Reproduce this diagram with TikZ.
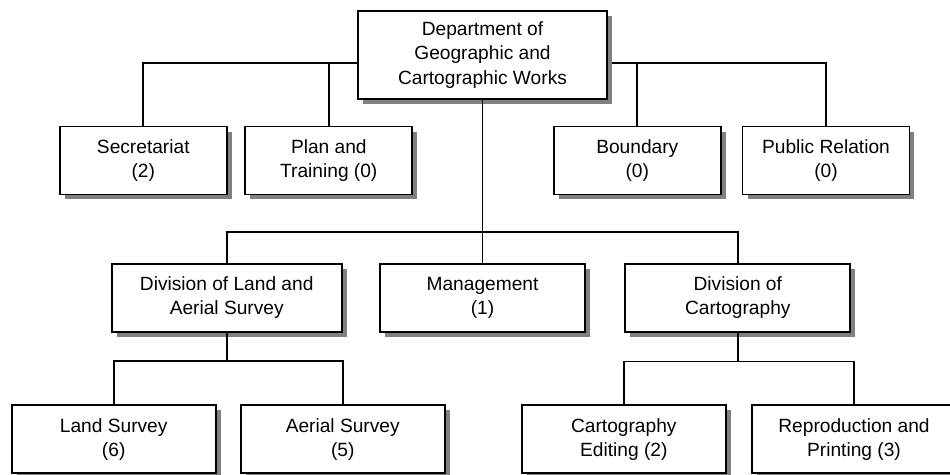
\documentclass[tikz,border=0pt]{standalone}
\usepackage{fontspec}
\setmainfont{Liberation Sans}
\usepackage{tikz}
\usetikzlibrary{shadows}
\definecolor{shadowGray}{RGB}{128, 128, 128}
\tikzset{
  orgBox/.style={draw, line width=1.1pt, fill=white, align=center, inner sep=0pt,
    minimum height=1.36cm, font=\fontsize{10.9}{13.7}\selectfont,
    drop shadow={shadow xshift=0.1cm, shadow yshift=-0.1cm, fill=shadowGray, opacity=1}},
  orgLine/.style={line width=1.1pt}
}

\begin{document}
\begin{tikzpicture}[x=0.02cm, y=-0.02cm]
        \useasboundingbox (0,0) rectangle (950,474);
        \coordinate (topLeft) at (358,63);
        \coordinate (topRight) at (607,63);
        \coordinate (midJoin) at (482.5,231.7);
        \coordinate (landJoin) at (226.7,361);
        \coordinate (cartoJoin) at (737.8,361.5);

        \draw[orgLine] (143.3,127) |- (topLeft);
        \draw[orgLine] (328.8,127) -- (328.8,63);
        \draw[orgLine] (826,127) |- (topRight);
        \draw[orgLine] (637.3,127) -- (637.3,63);

        \node[orgBox, minimum width=4.98cm, minimum height=1.77cm] (dept) at (482.5,55)
          {Department of\\Geographic and\\Cartographic Works};
        \node[orgBox, minimum width=3.34cm] (secr) at (143.3,160.5) {Secretariat\\(2)};
        \node[orgBox, minimum width=3.34cm] (plan) at (328.8,160.5) {Plan and\\Training (0)};
        \node[orgBox, minimum width=3.34cm] (bound) at (637.3,160.5) {Boundary\\(0)};
        \node[orgBox, minimum width=3.34cm] (pubRel) at (826,160.5) {Public Relation\\(0)};

        \node[orgBox, minimum width=4.6cm] (divLand) at (226.7,297.7) {Division of Land and\\Aerial Survey};
        \node[orgBox, minimum width=4.1cm] (manage) at (482.5,297.7) {Management\\(1)};
        \node[orgBox, minimum width=4.5cm] (divCarto) at (737.8,297.7) {Division of\\Cartography};

        \node[orgBox, minimum width=4.08cm] (landSurv) at (113.7,439.3) {Land Survey\\(6)};
        \node[orgBox, minimum width=4.08cm] (aerSurv) at (342.7,439.3) {Aerial Survey\\(5)};
        \node[orgBox, minimum width=4.08cm] (cartoEdit) at (623.8,439.3) {Cartography\\Editing (2)};
        \node[orgBox, minimum width=4.08cm] (reprod) at (854,439.3) {Reproduction and\\Printing (3)};

        \draw[orgLine] (dept.south) -- (manage.north);
        \draw[orgLine] (divLand.north) |- (midJoin) -| (divCarto.north);
        \draw[orgLine] (divLand.south) -- (landJoin);
        \draw[orgLine] (landSurv.north) |- (landJoin) -| (aerSurv.north);
        \draw[orgLine] (divCarto.south) -- (cartoJoin);
        \draw[orgLine] (cartoEdit.north) |- (cartoJoin) -| (reprod.north);
      \end{tikzpicture}
\end{document}
